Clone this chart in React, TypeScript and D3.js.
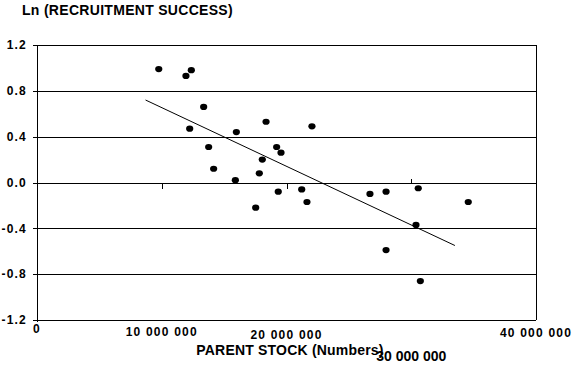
import React from "react";
import * as d3 from "d3";

// parent stock, millions of fish
const stock = [
  9.76, 12.37, 11.94, 13.36, 12.24, 15.98, 13.76, 14.16, 15.9, 17.53, 17.82, 18.36, 22.04,
  19.21, 19.56, 18.06, 19.34, 21.22, 21.64, 26.69, 27.98, 30.56, 34.57, 30.38, 27.98, 30.73,
];
// ln(recruitment success)
const lnSuccess = [
  0.99, 0.98, 0.93, 0.66, 0.47, 0.44, 0.31, 0.12, 0.02, -0.22, 0.08, 0.53, 0.49,
  0.31, 0.26, 0.2, -0.08, -0.06, -0.17, -0.1, -0.08, -0.05, -0.17, -0.37, -0.59, -0.86,
];
// fitted line end points
const trendStock = [8.7, 33.5];
const trendLn = [0.72, -0.55];

const yTicks = [1.2, 0.8, 0.4, 0.0, -0.4, -0.8, -1.2];
const xLabels = [0, 10, 20, 40];
const xLabelDrop = [0, 3, 6, 4]; // they sit a bit uneven in the original
const zeroTicks = [10, 20, 30];

const W = 574;
const H = 366;
const left = 37;
const right = 536;
const top = 45;
const bottom = 320;

const fmt = (m: number) => d3.format(",")(m * 1e6).replace(/,/g, " ");

const App: React.FC = () => {
  const x = d3.scaleLinear().domain([0, 40]).range([left, right]);
  const y = d3.scaleLinear().domain([-1.2, 1.2]).range([bottom, top]);
  const line = d3
    .line<number>()
    .x((d) => x(d))
    .y((d, i) => y(trendLn[i]));

  const font = "'Liberation Sans', Arial, sans-serif";
  const c = (v: number) => Math.round(v) + 0.5;

  return (
    <svg
      width={W}
      height={H}
      style={{ position: "absolute", left: 0, top: 0, background: "#fff" }}
      fontFamily={font}
      fontWeight="bold"
    >
      <text x={22} y={15} fontSize={14} letterSpacing={0.3}>
        Ln (RECRUITMENT SUCCESS)
      </text>

      {/* grid + y ticks */}
      {yTicks.map((t) => (
        <g key={t}>
          <line x1={33} x2={right} y1={c(y(t))} y2={c(y(t))} stroke="#000" shapeRendering="crispEdges" />
          <text
            x={27}
            y={y(t)}
            dy="0.36em"
            textAnchor="end"
            fontSize={12}
            letterSpacing={1.2}
          >
            {t.toFixed(1)}
          </text>
        </g>
      ))}

      {/* frame */}
      <line x1={c(left)} x2={c(left)} y1={top} y2={bottom + 2} stroke="#000" shapeRendering="crispEdges" />
      <line x1={c(right)} x2={c(right)} y1={top} y2={bottom} stroke="#000" shapeRendering="crispEdges" />

      {/* ticks sitting on the zero line */}
      {zeroTicks.map((t, i) => (
        <line
          key={t}
          x1={c(x(t))}
          x2={c(x(t))}
          y1={c(y(0))}
          y2={i < 2 ? c(y(0)) + 5 : c(y(0)) - 5}
          stroke="#000"
          shapeRendering="crispEdges"
        />
      ))}

      {/* x labels */}
      {xLabels.map((t, i) => (
        <text
          key={t}
          x={x(t)}
          y={333 + xLabelDrop[i]}
          textAnchor="middle"
          fontSize={12}
          letterSpacing={1.2}
        >
          {fmt(t)}
        </text>
      ))}
      <text x={x(30)} y={361} textAnchor="middle" fontSize={14}>
        {fmt(30)}
      </text>
      <text x={290} y={355} textAnchor="middle" fontSize={14} letterSpacing={0.2}>
        PARENT STOCK (Numbers)
      </text>

      {/* trend */}
      <path d={line(trendStock) ?? ""} fill="none" stroke="#000" strokeWidth={1} />

      {/* points */}
      {stock.map((s, i) => (
        <ellipse key={i} cx={x(s)} cy={y(lnSuccess[i])} rx={3.6} ry={3.1} fill="#000" />
      ))}
    </svg>
  );
};

export default App;
